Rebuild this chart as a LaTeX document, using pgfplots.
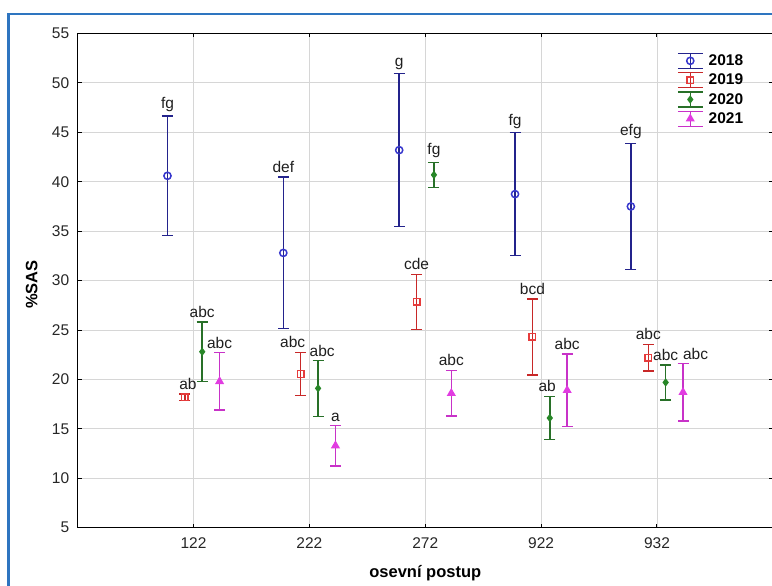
\documentclass[border=0pt]{standalone}
\usepackage{pgfplots}
\pgfplotsset{compat=1.18}
\usepackage{pgfplotstable}
\usepackage{fontspec}
\setmainfont{Liberation Sans}

\definecolor{frameblue}{RGB}{46,117,192}
\definecolor{gridgray}{RGB}{214,214,214}
\definecolor{barA}{RGB}{35,35,140}
\definecolor{mkA}{RGB}{55,55,205}
\definecolor{barB}{RGB}{200,40,40}
\definecolor{mkB}{RGB}{230,60,60}
\definecolor{barC}{RGB}{40,112,40}
\definecolor{mkC}{RGB}{40,135,40}
\definecolor{barD}{RGB}{200,50,200}
\definecolor{mkD}{RGB}{225,60,225}

\newcommand{\tickfont}{\fontsize{15.5}{18}\selectfont}
\newcommand{\labfont}{\fontsize{16.5}{19}\selectfont\bfseries}

% mean, half-width of the interval, letter group, sideways nudge of the letters
\pgfplotstableread{
pos y e lbl dx
1 40.6 6.05 fg 0
2 32.8 7.66 def 0
3 43.2 7.73 g 0
4 38.75 6.22 fg 0
5 37.5 6.38 efg 0
}\tA
\pgfplotstableread{
pos y e lbl dx
1 18.2 0.35 ab 0.026
2 20.55 2.2 abc -0.069
3 27.85 2.79 cde 0
4 24.3 3.83 bcd 0
5 22.2 1.35 abc 0
}\tB
\pgfplotstableread{
pos y e lbl dx
1 22.8 3.0 abc 0
2 19.1 2.83 abc 0.035
3 40.7 1.27 fg 0
4 16.1 2.19 ab -0.022
5 19.7 1.78 abc 0
}\tC
\pgfplotstableread{
pos y e lbl dx
1 19.8 2.9 abc 0
2 13.3 2.05 a 0
3 18.6 2.32 abc 0
4 18.9 3.65 abc 0
5 18.7 2.9 abc 0.108
}\tD

\pgfplotsset{
  ebar/.style n args={4}{% bar colour, mark colour, mark, mark size
    only marks, mark=#3, mark size=#4,
    mark options={draw=#2, fill=#2, line width=1.5pt, solid},
    error bars/y dir=both, error bars/y explicit,
    error bars/error bar style={draw=#1, line width=1.5pt},
    error bars/error mark options={rotate=90, mark size=5.5pt, draw=#1, line width=1.5pt},
    legend image code/.code={%
      \draw[#1, line width=1.4pt] (0pt,-7.5pt) -- (25pt,-7.5pt) (12.5pt,-7.5pt) -- (12.5pt,7.5pt) (0pt,7.5pt) -- (25pt,7.5pt);
      \draw[only marks] plot coordinates {(12.5pt,0pt)};
    },
  },
  lbls/.style={draw=none, mark=none, forget plot, nodes near coords,
    point meta=explicit symbolic,
    nodes near coords style={inner sep=0pt, yshift=4pt, font=\tickfont, text=black!88}},
}

\begin{document}
\begin{tikzpicture}
\path[use as bounding box] (0pt,0pt) rectangle (772pt,586pt);
\draw[frameblue, line width=2.5pt] (8.5pt,0pt) -- (8.5pt,572pt) -- (772pt,572pt);
\begin{axis}[
  at={(77.7pt,58.3pt)}, anchor=south west,
  scale only axis, width=695.1pt, height=494.2pt,
  xmin=0, xmax=6, ymin=5, ymax=55,
  xtick={1,2,3,4,5}, xticklabels={122,222,272,922,932},
  ytick={5,10,...,55},
  xtick pos=both, ytick pos=both,
  xticklabel pos=lower, yticklabel pos=left,
  tick align=inside, major tick length=4pt,
  tick style={black, line width=1pt},
  axis line style={black, line width=1.2pt},
  grid=major, grid style={gridgray, line width=0.9pt},
  /pgf/number format/assume math mode=true,
  ticklabel style={font=\tickfont, text=black!85},
  xticklabel style={yshift=-6pt},
  yticklabel style={xshift=-5pt},
  xlabel={osevní postup}, ylabel={\%SAS},
  xlabel style={font=\labfont, at={(axis description cs:0.5,0)}, anchor=center, yshift=-45.3pt},
  ylabel style={font=\labfont, at={(axis description cs:0,0.5)}, anchor=center, rotate=0, yshift=46pt, xshift=-4pt},
  legend cell align=left,
  legend style={draw=none, fill=none, font=\bfseries\tickfont,
    at={(rel axis cs:0.862,0.962)}, anchor=north west,
    inner sep=0pt, row sep=2.6pt, nodes={inner sep=2.2pt},
    column sep=3pt},
]
\addplot[ebar={barA}{mkA}{o}{3.6pt}] table[x expr=\thisrow{pos}-0.225, y=y, y error=e] {\tA};
\addlegendentry{2018}
\addplot[ebar={barB}{mkB}{square}{3.3pt}] table[x expr=\thisrow{pos}-0.075, y=y, y error=e] {\tB};
\addlegendentry{2019}
\addplot[ebar={barC}{mkC}{diamond*}{3pt}] table[x expr=\thisrow{pos}+0.075, y=y, y error=e] {\tC};
\addlegendentry{2020}
\addplot[ebar={barD}{mkD}{triangle*}{3.8pt}] table[x expr=\thisrow{pos}+0.225, y=y, y error=e] {\tD};
\addlegendentry{2021}

\addplot[lbls] table[x expr=\thisrow{pos}-0.225+\thisrow{dx}, y expr=\thisrow{y}+\thisrow{e}, meta=lbl] {\tA};
\addplot[lbls] table[x expr=\thisrow{pos}-0.075+\thisrow{dx}, y expr=\thisrow{y}+\thisrow{e}, meta=lbl] {\tB};
\addplot[lbls] table[x expr=\thisrow{pos}+0.075+\thisrow{dx}, y expr=\thisrow{y}+\thisrow{e}, meta=lbl] {\tC};
\addplot[lbls] table[x expr=\thisrow{pos}+0.225+\thisrow{dx}, y expr=\thisrow{y}+\thisrow{e}, meta=lbl] {\tD};
\end{axis}
\end{tikzpicture}
\end{document}
